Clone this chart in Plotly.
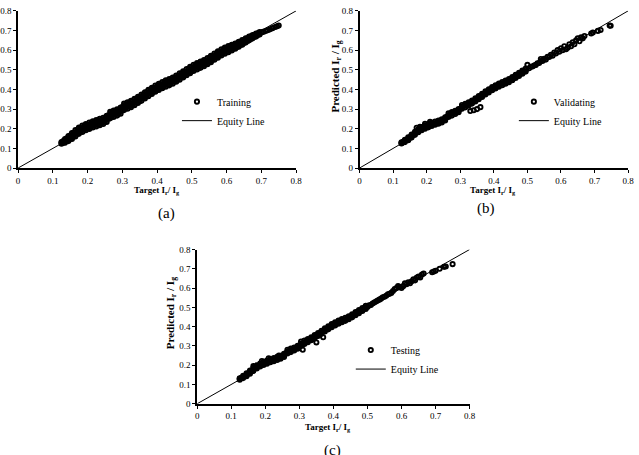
import plotly.graph_objects as go

# ---------------- data ----------------
tick_vals = [0, 0.1, 0.2, 0.3, 0.4, 0.5, 0.6, 0.7, 0.8]
tick_text = ["0", "0.1", "0.2", "0.3", "0.4", "0.5", "0.6", "0.7", "0.8"]
equity_x = [0, 0.8]
equity_y = [0, 0.8]

# Training (a)
train_x = [0.125, 0.135, 0.145, 0.155, 0.165, 0.175, 0.185, 0.195, 0.205, 0.215,
           0.225, 0.235, 0.245, 0.255, 0.265, 0.275, 0.285, 0.295, 0.305, 0.315,
           0.325, 0.335, 0.345, 0.355, 0.365, 0.375, 0.385, 0.395, 0.405, 0.415,
           0.425, 0.435, 0.445, 0.455, 0.465, 0.475, 0.485, 0.495, 0.505, 0.515,
           0.525, 0.535, 0.545, 0.555, 0.565, 0.575, 0.585, 0.595, 0.605, 0.615,
           0.625, 0.635, 0.645, 0.655, 0.665, 0.675, 0.685, 0.695]
train_y_mid = [0.128, 0.138, 0.150, 0.163, 0.177, 0.190, 0.200, 0.208, 0.215, 0.222,
               0.228, 0.234, 0.240, 0.250, 0.270, 0.276, 0.283, 0.292, 0.312, 0.318,
               0.326, 0.336, 0.347, 0.358, 0.370, 0.382, 0.393, 0.404, 0.413, 0.422,
               0.430, 0.437, 0.445, 0.455, 0.466, 0.477, 0.488, 0.499, 0.510, 0.518,
               0.526, 0.534, 0.544, 0.555, 0.567, 0.578, 0.589, 0.598, 0.606, 0.613,
               0.621, 0.630, 0.640, 0.650, 0.660, 0.669, 0.678, 0.686]
train_y_lo = [0.124, 0.129, 0.137, 0.148, 0.161, 0.174, 0.184, 0.192, 0.199, 0.206,
              0.212, 0.218, 0.224, 0.234, 0.253, 0.260, 0.267, 0.276, 0.295, 0.302,
              0.310, 0.320, 0.331, 0.342, 0.354, 0.366, 0.377, 0.388, 0.397, 0.406,
              0.414, 0.421, 0.429, 0.439, 0.450, 0.461, 0.472, 0.483, 0.494, 0.502,
              0.510, 0.518, 0.528, 0.539, 0.551, 0.562, 0.573, 0.582, 0.590, 0.598,
              0.607, 0.617, 0.628, 0.639, 0.650, 0.660, 0.670, 0.680]
train_y_hi = [0.132, 0.147, 0.163, 0.178, 0.193, 0.206, 0.216, 0.224, 0.231, 0.238,
              0.244, 0.250, 0.256, 0.266, 0.286, 0.292, 0.299, 0.308, 0.328, 0.334,
              0.342, 0.352, 0.363, 0.374, 0.386, 0.398, 0.409, 0.420, 0.429, 0.438,
              0.446, 0.453, 0.461, 0.471, 0.482, 0.493, 0.504, 0.515, 0.526, 0.534,
              0.542, 0.550, 0.560, 0.571, 0.583, 0.594, 0.604, 0.613, 0.621, 0.627,
              0.634, 0.642, 0.651, 0.660, 0.669, 0.677, 0.685, 0.692]
train_x2 = [0.130, 0.140, 0.150, 0.160, 0.170, 0.180, 0.190, 0.200, 0.210, 0.220,
            0.230, 0.240, 0.250, 0.260, 0.270, 0.280, 0.290, 0.300, 0.310, 0.320,
            0.330, 0.340, 0.350, 0.360, 0.370, 0.380, 0.390, 0.400, 0.410, 0.420,
            0.430, 0.440, 0.450, 0.460, 0.470, 0.480, 0.490, 0.500, 0.510, 0.520,
            0.530, 0.540, 0.550, 0.560, 0.570, 0.580, 0.590, 0.600, 0.610, 0.620,
            0.630, 0.640, 0.650, 0.660, 0.670, 0.680, 0.690]
train_y2 = [0.133, 0.144, 0.156, 0.170, 0.183, 0.195, 0.204, 0.211, 0.218, 0.225,
            0.231, 0.237, 0.245, 0.260, 0.273, 0.280, 0.287, 0.302, 0.315, 0.322,
            0.331, 0.341, 0.352, 0.364, 0.376, 0.387, 0.398, 0.408, 0.417, 0.426,
            0.433, 0.441, 0.450, 0.460, 0.471, 0.482, 0.493, 0.504, 0.514, 0.522,
            0.530, 0.539, 0.549, 0.561, 0.572, 0.583, 0.593, 0.602, 0.609, 0.617,
            0.625, 0.635, 0.645, 0.655, 0.664, 0.673, 0.682]
train_y2_lo = [0.129, 0.137, 0.148, 0.161, 0.174, 0.186, 0.195, 0.202, 0.209, 0.216,
               0.222, 0.228, 0.236, 0.251, 0.264, 0.271, 0.278, 0.293, 0.306, 0.313,
               0.322, 0.332, 0.343, 0.355, 0.367, 0.378, 0.389, 0.399, 0.408, 0.417,
               0.424, 0.432, 0.441, 0.451, 0.462, 0.473, 0.484, 0.495, 0.505, 0.513,
               0.521, 0.530, 0.540, 0.552, 0.563, 0.574, 0.584, 0.593, 0.600, 0.608,
               0.616, 0.626, 0.636, 0.647, 0.657, 0.667, 0.677]
train_y2_hi = [0.137, 0.151, 0.165, 0.179, 0.192, 0.204, 0.213, 0.220, 0.227, 0.234,
               0.240, 0.246, 0.254, 0.269, 0.282, 0.289, 0.296, 0.311, 0.324, 0.331,
               0.340, 0.350, 0.361, 0.373, 0.385, 0.396, 0.407, 0.417, 0.426, 0.435,
               0.442, 0.450, 0.459, 0.469, 0.480, 0.491, 0.502, 0.513, 0.523, 0.531,
               0.539, 0.548, 0.558, 0.570, 0.581, 0.592, 0.602, 0.611, 0.618, 0.626,
               0.634, 0.643, 0.652, 0.661, 0.670, 0.678, 0.686]
train_tail_x = [0.700, 0.705, 0.712, 0.718, 0.725, 0.732, 0.740, 0.745, 0.750]
train_tail_y = [0.690, 0.693, 0.697, 0.701, 0.706, 0.712, 0.718, 0.722, 0.725]

# Validating (b)
val_x = [0.125, 0.135, 0.145, 0.155, 0.165, 0.175, 0.185, 0.195, 0.205, 0.215,
         0.225, 0.235, 0.245, 0.255, 0.265, 0.275, 0.285, 0.295, 0.305, 0.315,
         0.325, 0.335, 0.345, 0.355, 0.365, 0.375, 0.385, 0.395, 0.405, 0.415,
         0.425, 0.435, 0.445, 0.455, 0.465, 0.475, 0.485, 0.495]
val_y_mid = [0.128, 0.138, 0.150, 0.163, 0.177, 0.190, 0.200, 0.208, 0.215, 0.222,
             0.228, 0.234, 0.240, 0.252, 0.270, 0.276, 0.283, 0.292, 0.312, 0.318,
             0.326, 0.336, 0.347, 0.358, 0.370, 0.382, 0.393, 0.404, 0.413, 0.422,
             0.430, 0.437, 0.445, 0.455, 0.466, 0.477, 0.488, 0.499]
val_y_lo = [0.125, 0.132, 0.142, 0.155, 0.169, 0.182, 0.192, 0.200, 0.207, 0.214,
            0.220, 0.226, 0.232, 0.242, 0.260, 0.267, 0.275, 0.284, 0.302, 0.309,
            0.318, 0.328, 0.339, 0.350, 0.362, 0.374, 0.385, 0.396, 0.405, 0.414,
            0.422, 0.429, 0.437, 0.447, 0.458, 0.469, 0.480, 0.491]
val_y_hi = [0.131, 0.144, 0.157, 0.171, 0.185, 0.198, 0.208, 0.216, 0.223, 0.230,
            0.236, 0.242, 0.248, 0.258, 0.279, 0.285, 0.291, 0.300, 0.321, 0.327,
            0.334, 0.344, 0.355, 0.366, 0.378, 0.390, 0.401, 0.412, 0.421, 0.430,
            0.438, 0.445, 0.453, 0.463, 0.474, 0.485, 0.496, 0.507]
val_x2 = [0.130, 0.140, 0.150, 0.160, 0.170, 0.180, 0.190, 0.200, 0.210, 0.220,
          0.230, 0.240, 0.250, 0.260, 0.270, 0.280, 0.290, 0.300, 0.310, 0.320,
          0.330, 0.340, 0.350, 0.360, 0.370, 0.380, 0.390, 0.400, 0.410, 0.420,
          0.430, 0.440, 0.450, 0.460, 0.470, 0.480, 0.490]
val_y2 = [0.133, 0.144, 0.156, 0.170, 0.183, 0.195, 0.204, 0.211, 0.218, 0.225,
          0.231, 0.237, 0.246, 0.261, 0.273, 0.280, 0.287, 0.302, 0.315, 0.322,
          0.331, 0.341, 0.352, 0.364, 0.376, 0.387, 0.398, 0.408, 0.417, 0.426,
          0.433, 0.441, 0.450, 0.460, 0.471, 0.482, 0.493]
val_extra_x = [0.505, 0.510, 0.515, 0.520, 0.525, 0.530, 0.535, 0.540, 0.545, 0.550,
               0.555, 0.560, 0.565, 0.570, 0.575, 0.580, 0.585, 0.590, 0.595, 0.600,
               0.605, 0.610, 0.615, 0.620, 0.625, 0.630, 0.635, 0.640, 0.645, 0.650,
               0.655, 0.660, 0.665, 0.670, 0.690, 0.695, 0.710, 0.718, 0.745, 0.748,
               0.170, 0.180, 0.195, 0.210, 0.330, 0.340, 0.350, 0.360, 0.500, 0.540]
val_extra_y = [0.508, 0.515, 0.517, 0.522, 0.525, 0.533, 0.535, 0.545, 0.545, 0.556,
               0.552, 0.566, 0.565, 0.577, 0.572, 0.588, 0.583, 0.600, 0.592, 0.610,
               0.600, 0.620, 0.605, 0.612, 0.630, 0.620, 0.640, 0.630, 0.650, 0.660,
               0.645, 0.665, 0.660, 0.672, 0.685, 0.690, 0.698, 0.703, 0.725, 0.724,
               0.205, 0.210, 0.225, 0.235, 0.290, 0.294, 0.300, 0.310, 0.525, 0.555]

# Testing (c)
test_x = [0.125, 0.135, 0.145, 0.155, 0.165, 0.175, 0.185, 0.195, 0.205, 0.215,
          0.225, 0.235, 0.245, 0.255, 0.265, 0.275, 0.285, 0.295, 0.305, 0.315,
          0.325, 0.335, 0.345, 0.355, 0.365, 0.375, 0.385, 0.395, 0.405, 0.415,
          0.425, 0.435, 0.445, 0.455, 0.465, 0.475, 0.485, 0.495]
test_y_mid = [0.129, 0.139, 0.151, 0.164, 0.178, 0.191, 0.201, 0.209, 0.216, 0.223,
              0.229, 0.235, 0.241, 0.253, 0.271, 0.277, 0.284, 0.293, 0.311, 0.318,
              0.327, 0.337, 0.348, 0.359, 0.371, 0.383, 0.394, 0.405, 0.414, 0.423,
              0.431, 0.438, 0.446, 0.456, 0.467, 0.478, 0.489, 0.500]
test_y_lo = [0.125, 0.133, 0.143, 0.156, 0.170, 0.183, 0.193, 0.201, 0.208, 0.215,
             0.221, 0.227, 0.233, 0.243, 0.261, 0.268, 0.276, 0.285, 0.301, 0.310,
             0.319, 0.329, 0.340, 0.351, 0.363, 0.375, 0.386, 0.397, 0.406, 0.415,
             0.423, 0.430, 0.438, 0.448, 0.459, 0.470, 0.481, 0.492]
test_y_hi = [0.132, 0.145, 0.158, 0.172, 0.186, 0.199, 0.209, 0.217, 0.224, 0.231,
             0.237, 0.243, 0.249, 0.259, 0.280, 0.286, 0.292, 0.301, 0.322, 0.328,
             0.335, 0.345, 0.356, 0.367, 0.379, 0.391, 0.402, 0.413, 0.422, 0.431,
             0.439, 0.446, 0.454, 0.464, 0.475, 0.486, 0.497, 0.508]
test_x2 = [0.130, 0.140, 0.150, 0.160, 0.170, 0.180, 0.190, 0.200, 0.210, 0.220,
           0.230, 0.240, 0.250, 0.260, 0.270, 0.280, 0.290, 0.300, 0.310, 0.320,
           0.330, 0.340, 0.350, 0.360, 0.370, 0.380, 0.390, 0.400, 0.410, 0.420,
           0.430, 0.440, 0.450, 0.460, 0.470, 0.480, 0.490]
test_y2 = [0.134, 0.145, 0.157, 0.171, 0.184, 0.196, 0.205, 0.212, 0.219, 0.226,
           0.232, 0.238, 0.247, 0.262, 0.274, 0.281, 0.288, 0.302, 0.314, 0.322,
           0.332, 0.342, 0.353, 0.365, 0.377, 0.388, 0.399, 0.409, 0.418, 0.427,
           0.434, 0.442, 0.451, 0.461, 0.472, 0.483, 0.494]
test_extra_x = [0.500, 0.505, 0.510, 0.515, 0.520, 0.525, 0.530, 0.535, 0.540, 0.545,
                0.550, 0.555, 0.560, 0.565, 0.570, 0.575, 0.580, 0.585, 0.590, 0.595,
                0.600, 0.605, 0.610, 0.615, 0.620, 0.625, 0.630, 0.635, 0.640, 0.645,
                0.650, 0.655, 0.660, 0.665, 0.690, 0.695, 0.700, 0.712, 0.725, 0.730,
                0.750, 0.165, 0.190, 0.210, 0.240, 0.310, 0.350, 0.370]
test_extra_y = [0.502, 0.510, 0.512, 0.520, 0.525, 0.530, 0.535, 0.540, 0.545, 0.552,
                0.555, 0.560, 0.568, 0.570, 0.575, 0.585, 0.595, 0.600, 0.610, 0.605,
                0.600, 0.610, 0.625, 0.620, 0.630, 0.625, 0.635, 0.645, 0.640, 0.655,
                0.660, 0.655, 0.670, 0.675, 0.682, 0.686, 0.690, 0.700, 0.710, 0.712,
                0.724, 0.195, 0.222, 0.236, 0.250, 0.280, 0.318, 0.345]

# ---------------- figure ----------------
W, H = 639, 455
FONT = "Liberation Serif"
BLACK = "#000000"


def px_x(p):
    return p / W


def px_y(p):
    return 1 - p / H


panels = [
    dict(name="Training",
         x=train_x * 3 + train_x2 * 3 + train_tail_x,
         y=(train_y_mid + train_y_lo + train_y_hi + train_y2 + train_y2_lo
            + train_y2_hi + train_tail_y),
         dom_x=(9.3, 294), dom_y=(6, 166.7)),
    dict(name="Validating",
         x=val_x * 3 + val_x2 + val_extra_x,
         y=val_y_mid + val_y_lo + val_y_hi + val_y2 + val_extra_y,
         dom_x=(359, 634), dom_y=(6, 166.7)),
    dict(name="Testing",
         x=test_x * 3 + test_x2 + test_extra_x,
         y=test_y_mid + test_y_lo + test_y_hi + test_y2 + test_extra_y,
         dom_x=(192.7, 471.7), dom_y=(250, 407.7)),
]

fig = go.Figure()
layout = dict(
    width=W, height=H, autosize=False,
    margin=dict(l=0, r=0, t=0, b=0, pad=0),
    paper_bgcolor="white", plot_bgcolor="white",
    font=dict(family=FONT, size=9, color=BLACK),
    showlegend=True,
)

legend_pos = [(172, 84), (517, 84), (350, 338)]

for i, p in enumerate(panels):
    n = i + 1
    sfx = "" if n == 1 else str(n)
    leg = "legend" if n == 1 else f"legend{n}"
    fig.add_trace(go.Scatter(
        x=p["x"], y=p["y"], mode="markers", name=p["name"],
        xaxis=f"x{sfx}", yaxis=f"y{sfx}", legend=leg,
        marker=dict(symbol="circle-open", size=4.2, color=BLACK,
                    line=dict(width=1.9, color=BLACK)),
    ))
    fig.add_trace(go.Scatter(
        x=equity_x, y=equity_y, mode="lines", name="Equity Line",
        xaxis=f"x{sfx}", yaxis=f"y{sfx}", legend=leg,
        line=dict(color=BLACK, width=1),
    ))
    dx = [px_x(p["dom_x"][0]), px_x(p["dom_x"][1])]
    dy = [px_y(p["dom_y"][1]), px_y(p["dom_y"][0])]
    common = dict(range=[0, 0.8], tickmode="array", tickvals=tick_vals,
                  ticktext=tick_text, showgrid=False, zeroline=False,
                  showline=True, linecolor=BLACK, linewidth=1.6,
                  ticks="outside", ticklen=3, tickwidth=1.2, tickcolor=BLACK,
                  tickfont=dict(family=FONT, size=9, color=BLACK),
                  fixedrange=True)
    layout[f"xaxis{sfx}"] = dict(common, domain=dx, anchor=f"y{sfx}")
    layout[f"yaxis{sfx}"] = dict(common, domain=dy, anchor=f"x{sfx}")
    # inside half of the crossing tick marks
    ox, oy = 3 + n, 3 + n
    layout[f"xaxis{ox}"] = dict(range=[0, 0.8], tickmode="array", tickvals=tick_vals,
                                overlaying=f"x{sfx}", anchor=f"y{sfx}",
                                showgrid=False, zeroline=False, showline=False,
                                ticks="inside", ticklen=3, tickwidth=1.2,
                                tickcolor=BLACK, showticklabels=False,
                                fixedrange=True)
    layout[f"yaxis{oy}"] = dict(range=[0, 0.8], tickmode="array", tickvals=tick_vals,
                                overlaying=f"y{sfx}", anchor=f"x{sfx}",
                                showgrid=False, zeroline=False, showline=False,
                                ticks="inside", ticklen=3, tickwidth=1.2,
                                tickcolor=BLACK, showticklabels=False,
                                fixedrange=True)
    lx, ly = legend_pos[i]
    layout[leg] = dict(x=px_x(lx), y=px_y(ly), xanchor="left", yanchor="top",
                       bgcolor="rgba(0,0,0,0)", borderwidth=0,
                       font=dict(family=FONT, size=10, color=BLACK),
                       tracegroupgap=0, itemwidth=30)

fig.update_layout(**layout)

ann = []
xt = "<b>Target I<sub>r</sub>/ I<sub>g</sub></b>"
yt = "<b>Predicted I<sub>r</sub> / I<sub>g</sub></b>"
for (x, y) in [(151.7, 190), (495.7, 190), (326.7, 432)]:
    ann.append(dict(x=px_x(x), y=px_y(y), xref="paper", yref="paper", text=xt,
                    showarrow=False, xanchor="center", yanchor="middle",
                    font=dict(family=FONT, size=9, color=BLACK)))
for (x, y) in [(-19, 73), (335, 73), (166, 315)]:
    ann.append(dict(x=px_x(x), y=px_y(y), xref="paper", yref="paper", text=yt,
                    showarrow=False, xanchor="center", yanchor="middle",
                    textangle=-90, font=dict(family=FONT, size=11, color=BLACK)))
for (t, x, y) in [("(a)", 161, 213), ("(b)", 488, 208), ("(c)", 331.7, 456)]:
    ann.append(dict(x=px_x(x), y=px_y(y), xref="paper", yref="paper", text=t,
                    showarrow=False, xanchor="center", yanchor="middle",
                    font=dict(family=FONT, size=15, color=BLACK)))
fig.update_layout(annotations=ann)

fig.write_html("out.html")
